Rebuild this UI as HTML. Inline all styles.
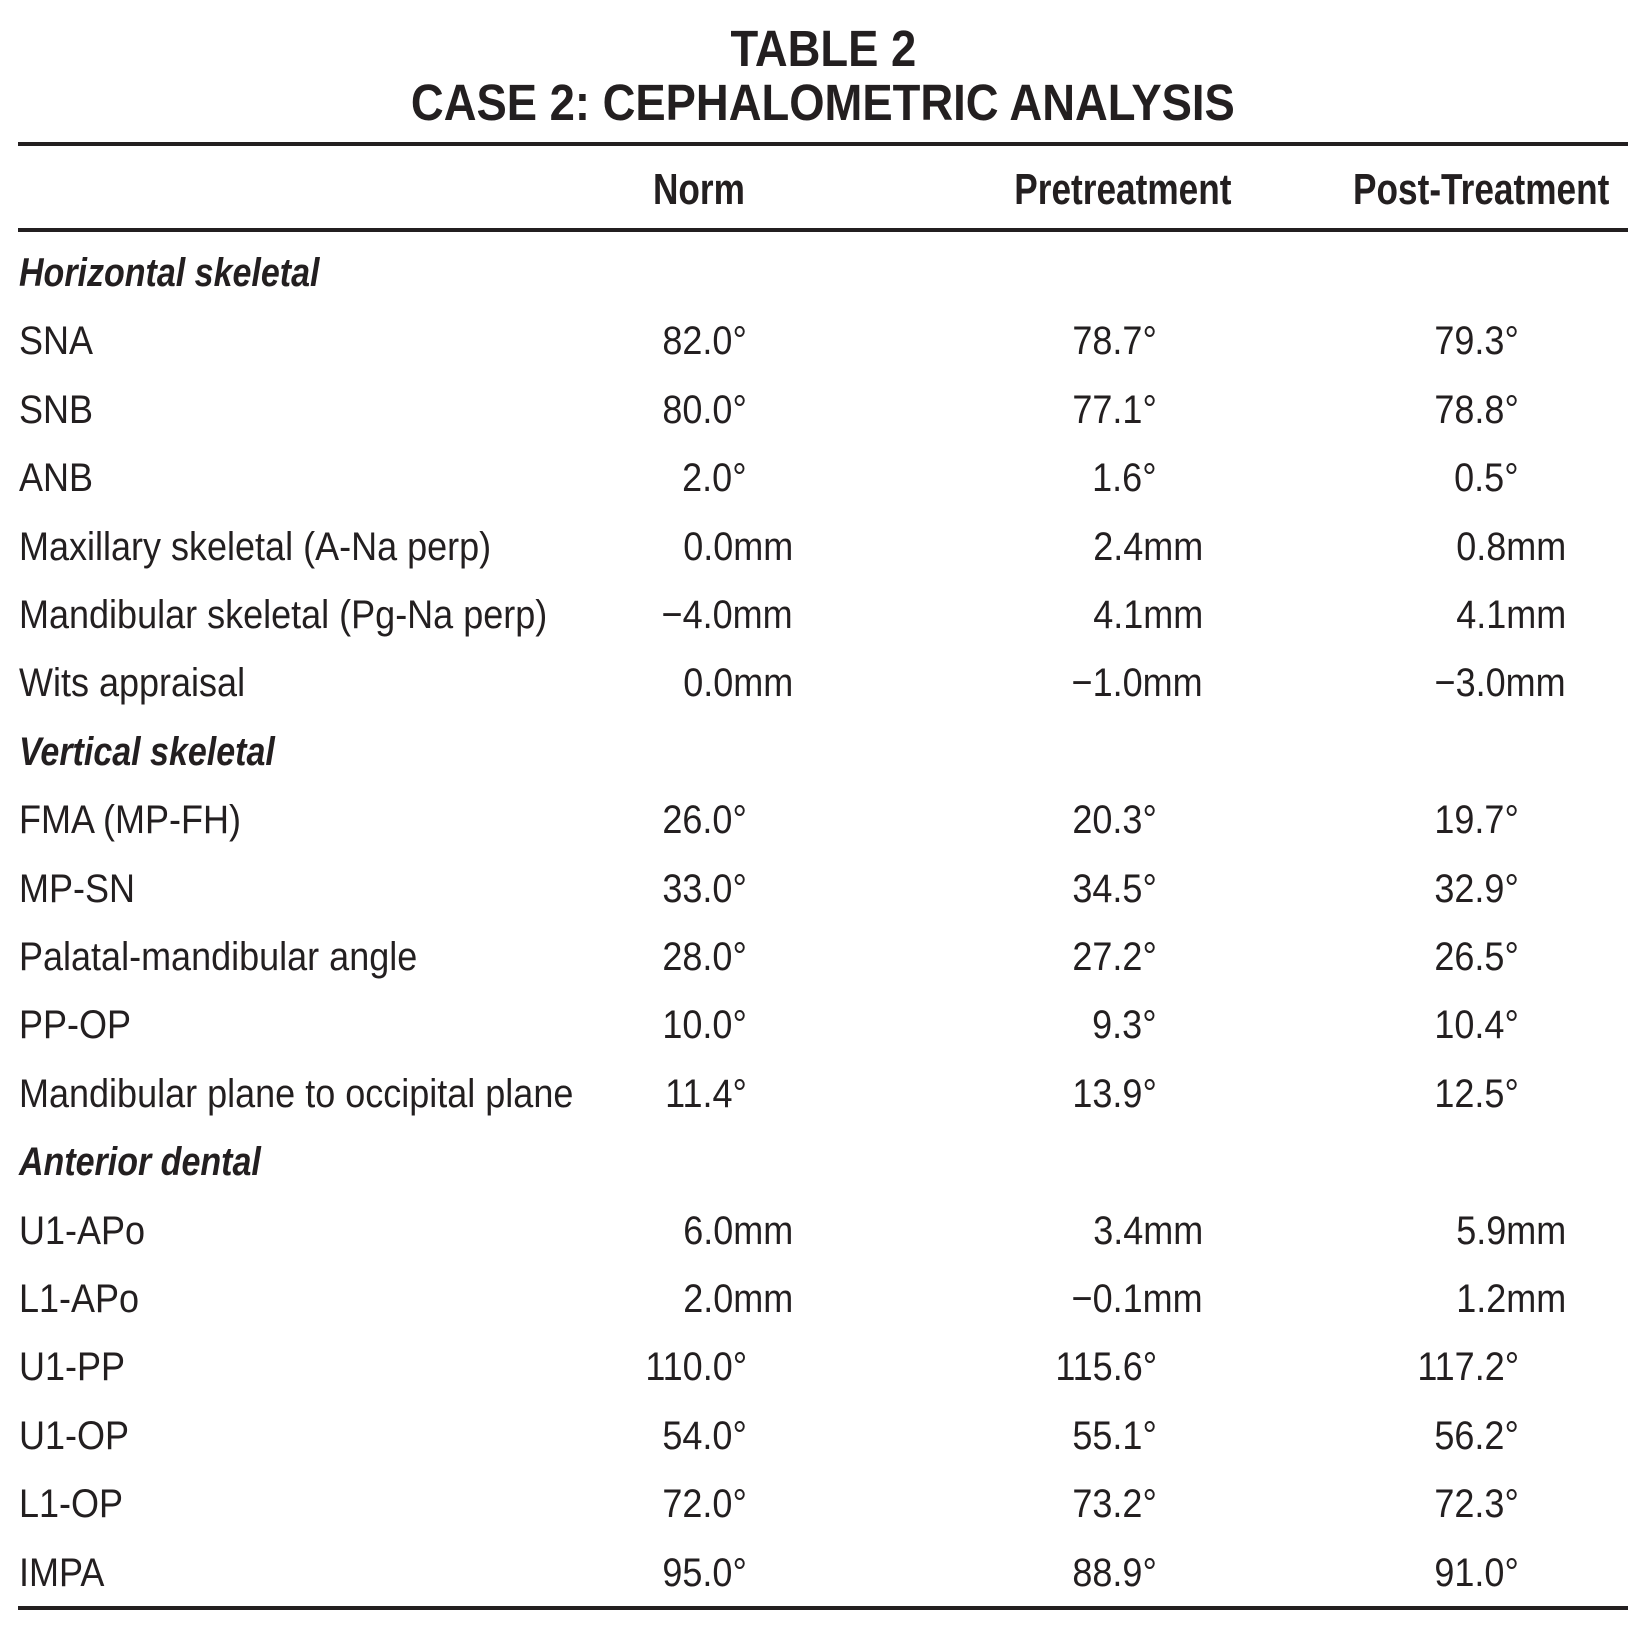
<!DOCTYPE html>
<html><head><meta charset="utf-8"><style>
html,body{margin:0;padding:0;background:#fff;}
#p{position:relative;width:1646px;height:1652px;overflow:hidden;font-family:"Liberation Sans Narrow","Liberation Sans",sans-serif;color:#231f20;}
.t{position:absolute;white-space:nowrap;line-height:44px;font-size:40px;}
.l{left:19px;transform:scaleX(0.9);transform-origin:left center;}
.s{font-weight:bold;font-style:italic;transform:scaleX(0.85);}
.r{text-align:right;transform:scaleX(0.9);transform-origin:right center;}
.rule{position:absolute;left:18px;width:1610px;height:4px;background:#231f20;}
.h{position:absolute;white-space:nowrap;font-weight:bold;font-size:44px;line-height:50px;transform:scaleX(0.8);}
.ti{position:absolute;left:0;width:1646px;text-align:center;font-weight:bold;font-size:51px;line-height:56px;}
.ti span{display:inline-block;transform:scaleX(0.89);}
</style></head><body><div id="p">
<div class="ti" style="top:21px"><span>TABLE 2</span></div>
<div class="ti" style="top:75px"><span>CASE 2: CEPHALOMETRIC ANALYSIS</span></div>
<div class="rule" style="top:142px"></div>
<div class="h" style="right:901px;top:165px;transform-origin:right center">Norm</div>
<div class="h" style="right:415px;top:165px;transform-origin:right center">Pretreatment</div>
<div class="h" style="right:37px;top:165px;transform-origin:right center">Post-Treatment</div>
<div class="rule" style="top:228px"></div>

<div class="t l s" style="top:251px">Horizontal skeletal</div>

<div class="t l" style="top:319px">SNA</div>
<div class="t r" style="top:319px;right:899px">82.0°</div>
<div class="t r" style="top:319px;right:489px">78.7°</div>
<div class="t r" style="top:319px;right:127px">79.3°</div>

<div class="t l" style="top:388px">SNB</div>
<div class="t r" style="top:388px;right:899px">80.0°</div>
<div class="t r" style="top:388px;right:489px">77.1°</div>
<div class="t r" style="top:388px;right:127px">78.8°</div>

<div class="t l" style="top:456px">ANB</div>
<div class="t r" style="top:456px;right:899px">2.0°</div>
<div class="t r" style="top:456px;right:489px">1.6°</div>
<div class="t r" style="top:456px;right:127px">0.5°</div>

<div class="t l" style="top:525px">Maxillary skeletal (A-Na perp)</div>
<div class="t r" style="top:525px;right:853px">0.0mm</div>
<div class="t r" style="top:525px;right:443px">2.4mm</div>
<div class="t r" style="top:525px;right:80px">0.8mm</div>

<div class="t l" style="top:593px">Mandibular skeletal (Pg-Na perp)</div>
<div class="t r" style="top:593px;right:853px">−4.0mm</div>
<div class="t r" style="top:593px;right:443px">4.1mm</div>
<div class="t r" style="top:593px;right:80px">4.1mm</div>

<div class="t l" style="top:661px">Wits appraisal</div>
<div class="t r" style="top:661px;right:853px">0.0mm</div>
<div class="t r" style="top:661px;right:443px">−1.0mm</div>
<div class="t r" style="top:661px;right:80px">−3.0mm</div>

<div class="t l s" style="top:730px">Vertical skeletal</div>

<div class="t l" style="top:798px">FMA (MP-FH)</div>
<div class="t r" style="top:798px;right:899px">26.0°</div>
<div class="t r" style="top:798px;right:489px">20.3°</div>
<div class="t r" style="top:798px;right:127px">19.7°</div>

<div class="t l" style="top:867px">MP-SN</div>
<div class="t r" style="top:867px;right:899px">33.0°</div>
<div class="t r" style="top:867px;right:489px">34.5°</div>
<div class="t r" style="top:867px;right:127px">32.9°</div>

<div class="t l" style="top:935px">Palatal-mandibular angle</div>
<div class="t r" style="top:935px;right:899px">28.0°</div>
<div class="t r" style="top:935px;right:489px">27.2°</div>
<div class="t r" style="top:935px;right:127px">26.5°</div>

<div class="t l" style="top:1003px">PP-OP</div>
<div class="t r" style="top:1003px;right:899px">10.0°</div>
<div class="t r" style="top:1003px;right:489px">9.3°</div>
<div class="t r" style="top:1003px;right:127px">10.4°</div>

<div class="t l" style="top:1072px">Mandibular plane to occipital plane</div>
<div class="t r" style="top:1072px;right:899px">11.4°</div>
<div class="t r" style="top:1072px;right:489px">13.9°</div>
<div class="t r" style="top:1072px;right:127px">12.5°</div>

<div class="t l s" style="top:1140px">Anterior dental</div>

<div class="t l" style="top:1209px">U1-APo</div>
<div class="t r" style="top:1209px;right:853px">6.0mm</div>
<div class="t r" style="top:1209px;right:443px">3.4mm</div>
<div class="t r" style="top:1209px;right:80px">5.9mm</div>

<div class="t l" style="top:1277px">L1-APo</div>
<div class="t r" style="top:1277px;right:853px">2.0mm</div>
<div class="t r" style="top:1277px;right:443px">−0.1mm</div>
<div class="t r" style="top:1277px;right:80px">1.2mm</div>

<div class="t l" style="top:1345px">U1-PP</div>
<div class="t r" style="top:1345px;right:899px">110.0°</div>
<div class="t r" style="top:1345px;right:489px">115.6°</div>
<div class="t r" style="top:1345px;right:127px">117.2°</div>

<div class="t l" style="top:1414px">U1-OP</div>
<div class="t r" style="top:1414px;right:899px">54.0°</div>
<div class="t r" style="top:1414px;right:489px">55.1°</div>
<div class="t r" style="top:1414px;right:127px">56.2°</div>

<div class="t l" style="top:1482px">L1-OP</div>
<div class="t r" style="top:1482px;right:899px">72.0°</div>
<div class="t r" style="top:1482px;right:489px">73.2°</div>
<div class="t r" style="top:1482px;right:127px">72.3°</div>

<div class="t l" style="top:1551px">IMPA</div>
<div class="t r" style="top:1551px;right:899px">95.0°</div>
<div class="t r" style="top:1551px;right:489px">88.9°</div>
<div class="t r" style="top:1551px;right:127px">91.0°</div>

<div class="rule" style="top:1606px"></div>
</div></body></html>
